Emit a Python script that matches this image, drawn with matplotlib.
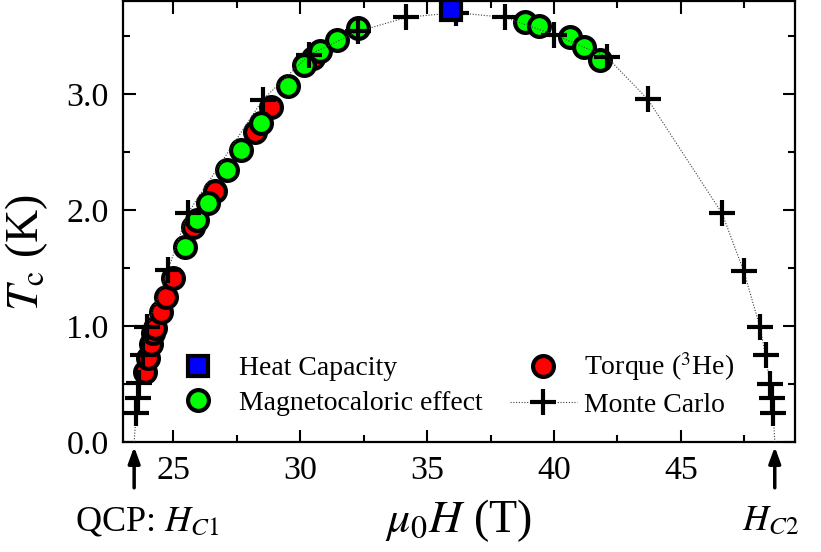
import matplotlib
matplotlib.use("Agg")
import matplotlib.pyplot as plt
from matplotlib.ticker import MultipleLocator, FormatStrFormatter

plt.rcParams['font.family'] = ['Liberation Serif', 'DejaVu Serif']
plt.rcParams['mathtext.fontset'] = 'stix'

# ---- data ----
heat_cap_H = [35.95]
heat_cap_T = [3.72]

torque_H = [23.86, 23.99, 24.12, 24.18, 24.29, 24.51, 24.71, 24.97, 25.78, 26.62, 28.20, 28.85, 30.50]
torque_T = [0.606, 0.725, 0.845, 0.94, 0.985, 1.12, 1.25, 1.41, 1.85, 2.16, 2.675, 2.885, 3.31]

mce_H = [25.47, 25.92, 26.35, 27.10, 27.67, 28.43, 29.51, 30.13, 30.76, 31.44, 32.27,
         38.84, 39.41, 40.62, 41.17, 41.80]
mce_T = [1.684, 1.91, 2.058, 2.34, 2.517, 2.75, 3.07, 3.25, 3.365, 3.466, 3.57,
         3.62, 3.58, 3.49, 3.40, 3.29]

mc_H = [23.53, 23.59, 23.66, 23.80, 23.95, 24.78, 25.56, 28.52, 30.36, 32.27, 34.18, 36.12,
        38.06, 40.00, 42.07, 43.69, 46.62, 47.47, 48.12, 48.34, 48.51, 48.58, 48.64]
mc_T = [0.247, 0.376, 0.506, 0.75, 0.99, 1.48, 1.97, 2.95, 3.336, 3.537, 3.658, 3.70,
        3.658, 3.51, 3.32, 2.954, 1.971, 1.477, 0.989, 0.747, 0.50, 0.376, 0.253]

hc1 = 23.45
hc2 = 48.70

x_ticks = [25, 30, 35, 40, 45]
y_ticks = [0.0, 1.0, 2.0, 3.0]

# ---- figure ----
fig = plt.figure(figsize=(8.21, 5.52), dpi=100)
ax = fig.add_axes([0.1495, 0.1993, 0.8189, 0.799])

# Monte Carlo guide line through the points, ending at the critical fields
line_H = [hc1] + mc_H + [hc2]
line_T = [0.0] + mc_T + [0.0]

ax.plot(torque_H, torque_T, 'o', ms=15, mfc='#ff0000', mec='k', mew=3.0,
        ls='none', zorder=3, label='Torque ($^{3}$He)')
ax.plot(mce_H, mce_T, 'o', ms=15, mfc='#00ff00', mec='k', mew=3.0,
        ls='none', zorder=4, label='Magnetocaloric effect')
mc_line, = ax.plot(line_H, line_T, ls=(0, (1, 1.5)), lw=0.8, color='0.25',
                   marker='+', ms=19, mew=3.0, mec='k', markevery=slice(1, -1),
                   zorder=5, label='Monte Carlo')
ax.plot(heat_cap_H, heat_cap_T, 's', ms=14, mfc='#0000ff', mec='k', mew=3.0,
        ls='none', zorder=6, label='Heat Capacity')

ax.set_xlim(23.0, 49.5)
ax.set_ylim(0.0, 3.8)
ax.set_xticks(x_ticks)
ax.set_yticks(y_ticks)
ax.xaxis.set_minor_locator(MultipleLocator(2.5))
ax.yaxis.set_minor_locator(MultipleLocator(0.5))
ax.yaxis.set_major_formatter(FormatStrFormatter('%.1f'))

ax.tick_params(which='both', direction='in', top=True, right=True, width=1.5)
ax.tick_params(which='major', length=9, labelsize=24.5, pad=10)
ax.tick_params(which='minor', length=5)
for sp in ax.spines.values():
    sp.set_linewidth(1.6)

ax.set_xlabel(r'$\mu_{\mathit{0}}H$ (T)', fontsize=33)
ax.xaxis.set_label_coords(0.5, -0.125)
ax.set_ylabel(r'$T_{\mathrm{c}}$ (K)', fontsize=33)
ax.yaxis.set_label_coords(-0.108, 0.43)

# legend
h = {l.get_label(): l for l in ax.get_lines()}
handles = [h['Heat Capacity'], h['Magnetocaloric effect'], h['Torque ($^{3}$He)'], h['Monte Carlo']]
ax.legend(handles, [hh.get_label() for hh in handles], ncol=2, frameon=False,
          fontsize=20, handlelength=2.4, handletextpad=0.25, columnspacing=1.0,
          labelspacing=0.32, borderpad=0.0, borderaxespad=0.0,
          loc='lower left', bbox_to_anchor=(0.063, 0.055))

# critical field arrows
for hc in (hc1, hc2):
    ax.annotate('', xy=(hc, 0.0), xycoords=('data', 'axes fraction'),
                xytext=(0, -33), textcoords='offset points',
                arrowprops=dict(arrowstyle='-|>,head_length=0.6,head_width=0.22',
                                mutation_scale=16, lw=2.5, color='k',
                                shrinkA=0, shrinkB=3.5),
                annotation_clip=False)

fig.text(75 / 821, 1 - 530 / 552, r'QCP: $H_{\mathit{C1}}$', fontsize=26,
         ha='left', va='baseline')
fig.text(742 / 821, 1 - 530 / 552, r'$H_{\mathit{C2}}$', fontsize=26,
         ha='left', va='baseline')

fig.savefig('out.png', dpi=100)
